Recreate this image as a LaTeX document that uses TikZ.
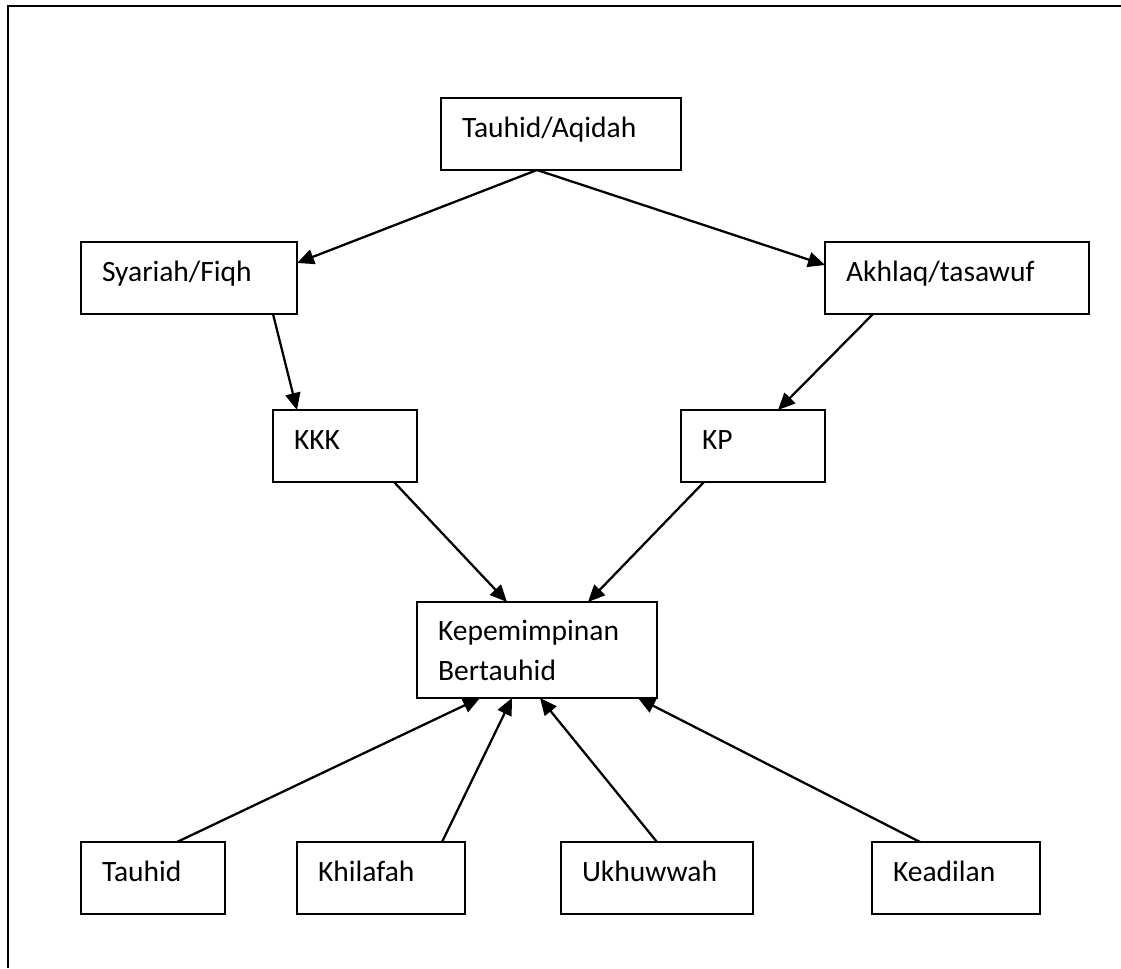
\documentclass[tikz,border=0pt]{standalone}
\usepackage{fontspec}
\setmainfont{Carlito}
\usetikzlibrary{arrows.meta}

\tikzset{
  box/.style={draw, line width=1.3pt, anchor=north west, inner xsep=0.42cm, inner ysep=0pt, outer sep=0pt,
    text height=0.78cm, text depth=0.66cm, font=\fontsize{16.8}{23.3}\selectfont},
  boxw/.style={box, text width=#1, align=left},
  link/.style={line width=1.3pt, -{Triangle[length=0.34cm,width=0.3cm]}}
}

\begin{document}
\begin{tikzpicture}
    \useasboundingbox (0,0) rectangle (22.42,-19.36);
    \draw[line width=1.3pt] (0.16,-19.36) -- (0.16,-0.12) -- (22.42,-0.12);
    \node[boxw=3.96cm] (tauaq) at (8.82,-1.96) {Tauhid/Aqidah};
    \node[boxw=3.48cm] (syariah) at (1.62,-4.84) {Syariah/Fiqh};
    \node[boxw=4.44cm] (akhlaq) at (16.5,-4.84) {Akhlaq/tasawuf};
    \node[boxw=2.04cm] (kkk) at (5.46,-8.2) {KKK};
    \node[boxw=2.04cm] (kp) at (13.62,-8.2) {KP};
    \node[box, text height=0.76cm, text depth=1.16cm] (kep) at (8.34,-12.04) {\parbox[t]{3.96cm}{Kepemimpinan\\Bertauhid}};
    \node[boxw=2.04cm] (tauhid) at (1.62,-16.84) {Tauhid};
    \node[boxw=2.52cm] (khilafah) at (5.94,-16.84) {Khilafah};
    \node[boxw=3.0cm] (ukhuwwah) at (11.22,-16.84) {Ukhuwwah};
    \node[boxw=2.52cm] (keadilan) at (17.44,-16.84) {Keadilan};
    \draw[link] ([xshift=-0.48cm]tauaq.south) -- ([yshift=0.3cm]syariah.east);
    \draw[link] ([xshift=-0.48cm]tauaq.south) -- ([yshift=0.26cm]akhlaq.west);
    \draw[link] ([xshift=1.68cm]syariah.south) -- ([xshift=-0.96cm]kkk.north);
    \draw[link] ([xshift=-1.68cm]akhlaq.south) -- ([xshift=0.5cm]kp.north);
    \draw[link] ([xshift=0.98cm]kkk.south) -- ([xshift=-0.6cm]kep.north);
    \draw[link] ([xshift=-0.98cm]kp.south) -- ([xshift=1.02cm]kep.north);
    \draw[link] ([xshift=0.48cm]tauhid.north) -- ([xshift=-1.14cm]kep.south);
    \draw[link] ([xshift=1.22cm]khilafah.north) -- ([xshift=-0.5cm]kep.south);
    \draw[link] (ukhuwwah.north) -- ([xshift=0.06cm]kep.south);
    \draw[link] ([xshift=-0.72cm]keadilan.north) -- ([xshift=2.02cm]kep.south);
\end{tikzpicture}
\end{document}
